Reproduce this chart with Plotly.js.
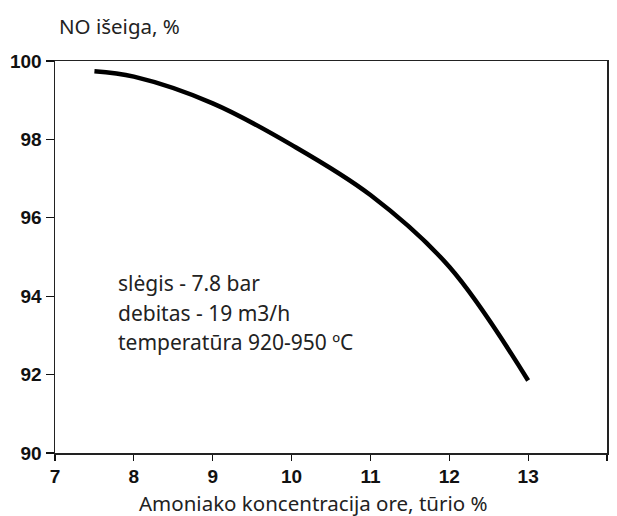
<!DOCTYPE html>
<html>
<head>
<meta charset="utf-8">
<script src="https://cdn.plot.ly/plotly-3.0.1.min.js"></script>
<style>html,body{margin:0;padding:0;background:#fff;}#chart{width:617px;height:516px;}</style>
</head>
<body>
<div id="chart"></div>
<script>
const concentration = [7.5, 8, 9, 10, 11, 12, 13];
const noYield = [99.74, 99.6, 98.92, 97.86, 96.58, 94.75, 91.85];
const xTicks = [7, 8, 9, 10, 11, 12, 13, 14];
const yTicks = [90, 92, 94, 96, 98, 100];
const yTitle = "NO išeiga, %";
const xTitle = "Amoniako koncentracija ore, tūrio %";
const notes = ["slėgis - 7.8 bar", "debitas - 19 m3/h", "temperatūra 920-950 ºC"];

const titleFont = {family: "Noto Sans, Open Sans, sans-serif", size: 20.5, color: "#222"};
const noteFont = {family: "Noto Sans, Open Sans, sans-serif", size: 21, color: "#222"};
const tickFont = {family: "Liberation Sans, Arial, sans-serif", size: 19, color: "#111", weight: "bold"};

const annotations = [
  {text: yTitle, xref: "paper", yref: "paper", x: 0.004, y: 1.089, xanchor: "left", yanchor: "middle", showarrow: false, font: titleFont},
  {text: xTitle, xref: "paper", yref: "paper", x: 0.468, y: -0.128, xanchor: "center", yanchor: "middle", showarrow: false, font: titleFont}
];
const noteY = [94.33, 93.57, 92.82];
notes.forEach((t, i) => annotations.push({
  text: t, xref: "x", yref: "y", x: 7.77, y: noteY[i], xanchor: "left", yanchor: "middle", showarrow: false, font: noteFont
}));

Plotly.newPlot("chart", [{
  x: concentration, y: noYield, type: "scatter", mode: "lines",
  line: {color: "#000", width: 4.5, shape: "spline", smoothing: 1},
  hoverinfo: "skip"
}], {
  width: 617, height: 516,
  margin: {l: 55, r: 10, t: 61, b: 63},
  paper_bgcolor: "#fff", plot_bgcolor: "#fff",
  showlegend: false,
  xaxis: {range: [7, 14], tickvals: xTicks, ticktext: xTicks.map(String), ticks: "outside", ticklen: 6, tickwidth: 1.2, tickcolor: "#111",
    showline: true, mirror: true, linecolor: "#222", linewidth: 1.5, showgrid: false, zeroline: false, tickfont: tickFont},
  yaxis: {range: [90, 100], tickvals: yTicks, ticktext: yTicks.map(String), ticks: "outside", ticklen: 8, tickwidth: 1.2, tickcolor: "#111",
    showline: true, mirror: true, linecolor: "#222", linewidth: 1.5, showgrid: false, zeroline: false, tickfont: tickFont},
  annotations: annotations
}, {staticPlot: true});
</script>
</body>
</html>
